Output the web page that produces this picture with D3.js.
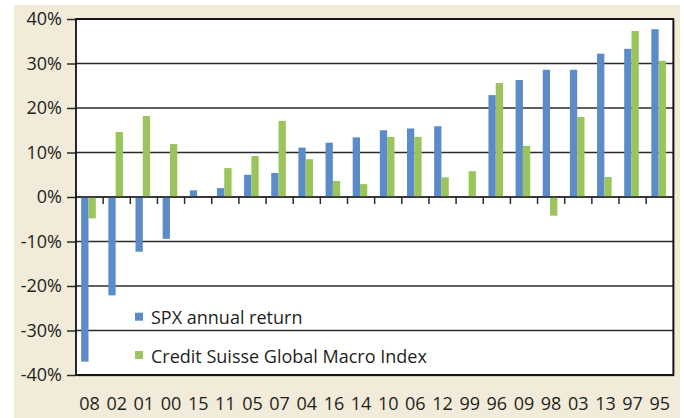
<!DOCTYPE html>
<html><head><meta charset="utf-8">
<script src="https://cdn.jsdelivr.net/npm/d3@7"></script>
<style>
html,body{margin:0;padding:0;background:#fff;}
svg text{font-family:"Open Sans",sans-serif;fill:#231f20;}
</style></head>
<body><svg id="chart" width="684" height="418"></svg>
<script>
const categories = ["08","02","01","00","15","11","05","07","04","16","14","10","06","12","99","96","09","98","03","13","97","95"];
const spx = [-37.0,-22.1,-12.3,-9.4,1.5,2.0,5.0,5.4,11.1,12.2,13.4,15.0,15.4,15.9,0,22.9,26.3,28.6,28.6,32.2,33.3,37.7];
const csgm = [-4.8,14.6,18.2,11.9,0,6.5,9.2,17.1,8.5,3.6,2.9,13.5,13.5,4.4,5.8,25.6,11.5,-4.2,18.0,4.5,37.3,30.6];
const seriesNames = ["SPX annual return","Credit Suisse Global Macro Index"];
const colors = ["#5b8bc8","#9bc45c"];
const yTicks = [-40,-30,-20,-10,0,10,20,30,40];

const svg = d3.select("#chart");
const L=76, R=673.3, T=19, B=375;
svg.append("rect").attr("x",14).attr("y",5).attr("width",666).attr("height",413).attr("fill","#f2ebd9");
// shadow
svg.append("rect").attr("x",L+1.5).attr("y",T+1.5).attr("width",R-L).attr("height",B-T).attr("fill","#b4afa5");
svg.append("rect").attr("x",L).attr("y",T).attr("width",R-L).attr("height",B-T).attr("fill","#fff");

const x = d3.scaleBand().domain(categories).range([L,R]).padding(0);
const xs = d3.scaleBand().domain([0,1]).range([5.2,5.2+14.6]);
const y = d3.scaleLinear().domain([-40,40]).range([B,T]);

// gridlines
svg.append("g").selectAll("line").data(yTicks).join("line")
  .attr("x1",L).attr("x2",R).attr("y1",d=>y(d)).attr("y2",d=>y(d))
  .attr("stroke","#2b2b2b").attr("stroke-width",1.5);

// y axis
const yAxis = d3.axisLeft(y).tickValues(yTicks).tickFormat(d=>d+"%").tickSize(9).tickPadding(5);
const gy = svg.append("g").attr("transform",`translate(${L},0)`).call(yAxis);
gy.select(".domain").remove();
gy.selectAll("line").attr("stroke","#2b2b2b").attr("stroke-width",1.5);
gy.selectAll("text").attr("font-size",18).attr("fill","#231f20").attr("font-family","Open Sans");

// bars
const data = [spx, csgm];
data.forEach((vals,si)=>{
  svg.append("g").selectAll("rect").data(vals).join("rect")
    .attr("x",(d,i)=>x(categories[i])+xs(si))
    .attr("width",xs.bandwidth())
    .attr("y",d=>y(Math.max(0,d)))
    .attr("height",d=>Math.abs(y(d)-y(0)))
    .attr("fill",colors[si]);
});

// x axis line and ticks at 0
const gx0 = svg.append("g").attr("transform",`translate(0,${y(0)})`);
gx0.append("line").attr("x1",L).attr("x2",R).attr("y1",0).attr("y2",0).attr("stroke","#2b2b2b").attr("stroke-width",1.5);
gx0.selectAll("line.t").data(categories.slice(1)).join("line").attr("class","t")
  .attr("x1",d=>x(d)).attr("x2",d=>x(d)).attr("y1",0).attr("y2",7)
  .attr("stroke","#2b2b2b").attr("stroke-width",1.5);

// x labels
const gx = svg.append("g").attr("transform",`translate(0,${B})`)
  .call(d3.axisBottom(x).tickSize(0).tickPadding(22));
gx.select(".domain").remove();
gx.selectAll("text").attr("font-size",18).attr("fill","#231f20").attr("font-family","Open Sans");

// border
svg.append("rect").attr("x",L).attr("y",T).attr("width",R-L).attr("height",B-T)
  .attr("fill","none").attr("stroke","#111").attr("stroke-width",1.8);

// legend
const leg = svg.append("g");
seriesNames.forEach((n,i)=>{
  const yy = [316.7,355][i];
  leg.append("rect").attr("x",135).attr("y",yy-4).attr("width",8).attr("height",8).attr("fill",colors[i]);
  leg.append("text").attr("x",151).attr("y",yy+7.5).attr("font-size",18).text(n);
});
</script></body></html>
